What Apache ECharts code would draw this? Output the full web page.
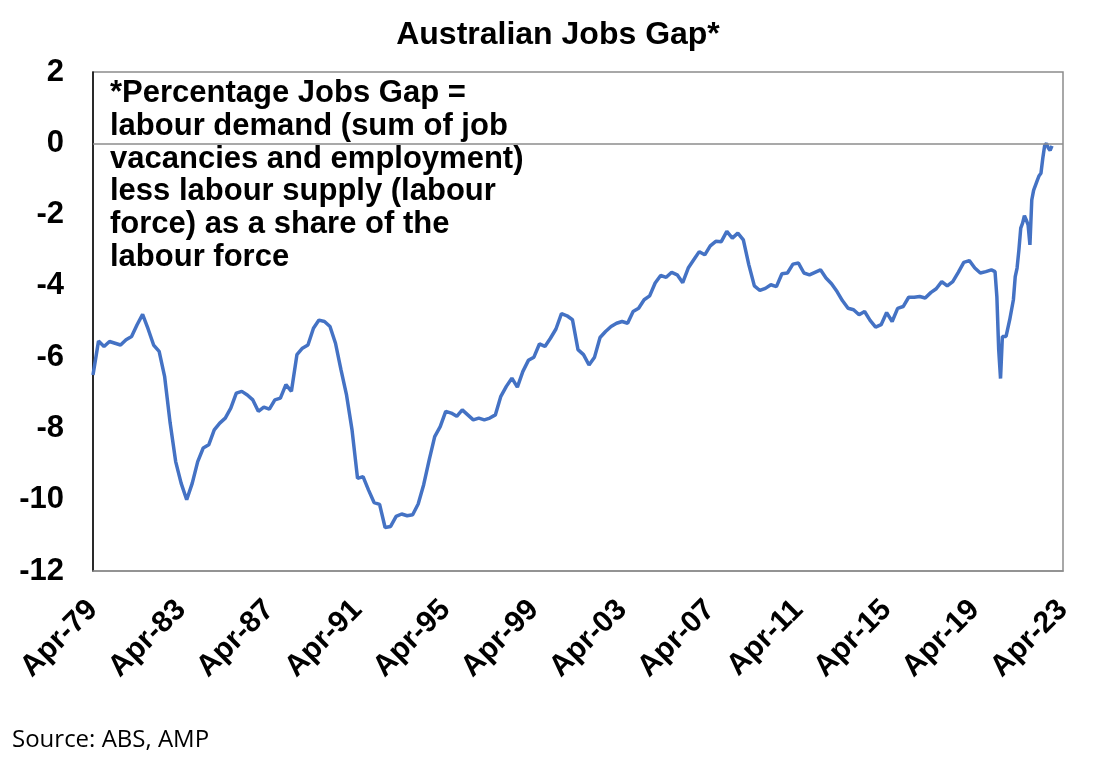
<!DOCTYPE html>
<html lang="en">
  <head>
    <meta charset="UTF-8" />
    <title>Australian Jobs Gap</title>
    <script src="https://cdn.jsdelivr.net/npm/echarts@6/dist/echarts.min.js"></script>
    <style>
      html, body { margin: 0; padding: 0; background: #fff; }
      #chart { width: 1101px; height: 776px; }
    </style>
  </head>
  <body>
    <div id="chart"></div>
    <script>
      // x axis is months since Apr-79
      const xTickLabels = ["Apr-79", "Apr-83", "Apr-87", "Apr-91", "Apr-95", "Apr-99",
        "Apr-03", "Apr-07", "Apr-11", "Apr-15", "Apr-19", "Apr-23"];
      const yTicks = [2, 0, -2, -4, -6, -8, -10, -12];

      // jobs gap, %, read every 3 months from Apr-79 to Jan-20
      const gapQuarterly = [
        -6.5, -5.55, -5.7, -5.56, -5.61, -5.66, -5.51, -5.42, -5.09, -4.8,
        -5.21, -5.66, -5.84, -6.55, -7.85, -8.93, -9.54, -10.0, -9.54, -8.93,
        -8.55, -8.46, -8.04, -7.85, -7.71, -7.43, -7.01, -6.96, -7.06, -7.2,
        -7.52, -7.4, -7.46, -7.2, -7.15, -6.77, -6.96, -5.93, -5.75, -5.66,
        -5.19, -4.96, -5.0, -5.14, -5.61, -6.36, -7.06, -8.04, -9.4, -9.35,
        -9.73, -10.08, -10.13, -10.78, -10.75, -10.47, -10.4, -10.45, -10.42, -10.12,
        -9.58, -8.88, -8.23, -7.95, -7.52, -7.57, -7.66, -7.48, -7.62, -7.76,
        -7.71, -7.76, -7.71, -7.62, -7.1, -6.82, -6.59, -6.84, -6.4, -6.09,
        -6.0, -5.63, -5.7, -5.47, -5.21, -4.78, -4.84, -4.95, -5.79, -5.93,
        -6.22, -6.0, -5.45, -5.28, -5.14, -5.05, -5.0, -5.05, -4.72, -4.63,
        -4.39, -4.28, -3.92, -3.71, -3.76, -3.62, -3.69, -3.91, -3.5, -3.27,
        -3.04, -3.13, -2.88, -2.75, -2.76, -2.47, -2.66, -2.52, -2.71, -3.41,
        -4.0, -4.13, -4.07, -3.97, -4.02, -3.66, -3.64, -3.39, -3.36, -3.64,
        -3.69, -3.62, -3.55, -3.78, -3.94, -4.16, -4.42, -4.63, -4.67, -4.81,
        -4.72, -4.97, -5.16, -5.09, -4.75, -5.0, -4.63, -4.58, -4.32, -4.32,
        -4.3, -4.34, -4.19, -4.08, -3.88, -4.0, -3.88, -3.62, -3.34, -3.29,
        -3.5, -3.64, -3.6, -3.55
      ];
      // monthly from Feb-20 to Oct-22
      const recentStart = 490;
      const gapMonthly = [
        -3.5, -3.6, -4.3, -5.79, -6.6, -5.42, -5.38, -5.42, -5.47, -4.95,
        -4.67, -4.39, -3.74, -3.5, -2.99, -2.38, -2.24, -2.03, -2.15, -2.29,
        -2.85, -1.59, -1.32, -1.3, -1.04, -0.91, -0.84, -0.42, -0.07, 0.0,
        -0.13, -0.2, -0.07
      ];

      const seriesData = [];
      gapQuarterly.forEach((v, i) => seriesData.push([i * 3, v]));
      gapMonthly.forEach((v, i) => seriesData.push([recentStart + i, v]));

      const font = "'Liberation Sans', Arial, sans-serif";
      const chart = echarts.init(document.getElementById("chart"));

      chart.setOption({
        backgroundColor: "#ffffff",
        animation: false,
        title: {
          text: "Australian Jobs Gap*",
          left: 553,
          textAlign: "center",
          top: 14,
          textStyle: { fontFamily: font, fontWeight: "bold", fontSize: 32, color: "#000" }
        },
        grid: {
          left: 93, right: 38, top: 72, bottom: 205,
          show: true, borderColor: "#8c8c8c", borderWidth: 1.5
        },
        xAxis: {
          type: "value",
          min: 0,
          max: 528,
          interval: 48,
          axisLine: { show: true, onZero: false, lineStyle: { color: "#8c8c8c", width: 1.5 } },
          axisTick: { show: false },
          splitLine: { show: false },
          axisLabel: {
            rotate: 45,
            margin: 34,
            fontFamily: font,
            fontWeight: "bold",
            fontSize: 30,
            color: "#000",
            formatter: (v) => xTickLabels[Math.round(v / 48)]
          }
        },
        yAxis: {
          type: "value",
          min: yTicks[yTicks.length - 1],
          max: yTicks[0],
          interval: 2,
          axisLine: { show: true, lineStyle: { color: "#000", width: 1.5 } },
          axisTick: { show: false },
          splitLine: { show: false },
          axisLabel: {
            margin: 29,
            fontFamily: font,
            fontWeight: "bold",
            fontSize: 31,
            color: "#000"
          }
        },
        graphic: [
          {
            type: "text",
            left: 110,
            top: 77,
            style: {
              text: "*Percentage Jobs Gap =\nlabour demand (sum of job\nvacancies and employment)\nless labour supply (labour\nforce) as a share of the\nlabour force",
              font: "bold 31px " + font,
              lineHeight: 32.8,
              fill: "#000"
            }
          },
          {
            type: "text",
            left: 12,
            top: 728,
            style: {
              text: "Source: ABS, AMP",
              font: "24px 'Open Sans', sans-serif",
              fill: "#000"
            }
          }
        ],
        series: [
          {
            type: "line",
            data: seriesData,
            showSymbol: false,
            smooth: false,
            lineStyle: { color: "#4472C4", width: 3.5 },
            markLine: {
              silent: true,
              symbol: "none",
              label: { show: false },
              lineStyle: { color: "#8c8c8c", width: 1.5, type: "solid" },
              data: [{ yAxis: 0 }]
            }
          }
        ]
      });
    </script>
  </body>
</html>
